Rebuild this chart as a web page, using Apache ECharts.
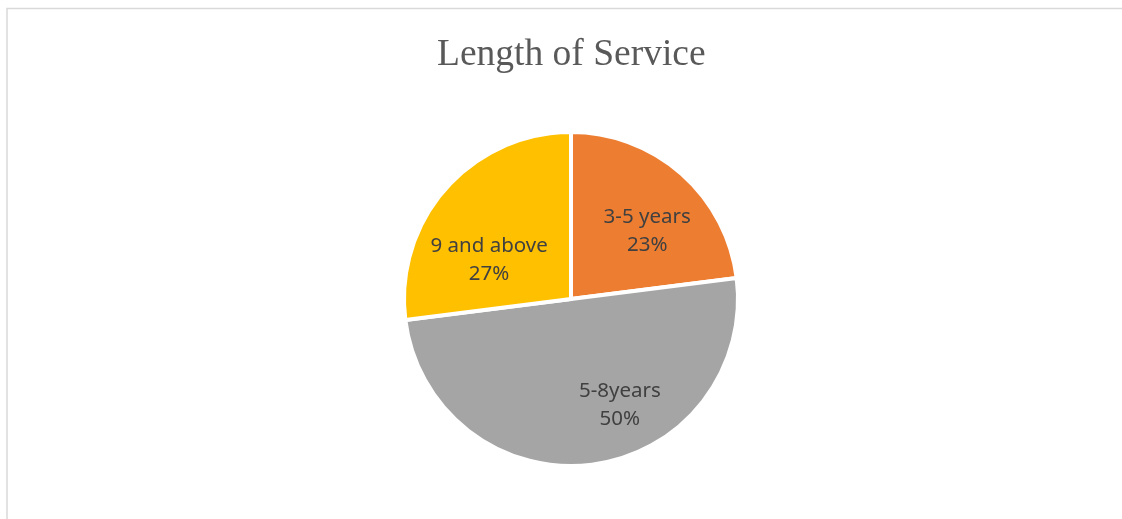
<!DOCTYPE html>
<html>
<head>
<meta charset="utf-8">
<script src="https://cdn.jsdelivr.net/npm/echarts@6/dist/echarts.min.js"></script>
<style>
  html, body { margin: 0; padding: 0; background: #ffffff; }
  #chart { width: 1122px; height: 519px; }
</style>
</head>
<body>
<div id="chart"></div>
<script>
const chartTitle = 'Length of Service';
const categories = ['3-5 years', '5-8years', '9 and above'];
const values = [23, 50, 27];
const sliceColors = ['#ED7D31', '#A5A5A5', '#FFC000'];

const chart = echarts.init(document.getElementById('chart'), null, { renderer: 'canvas' });

const labelNudge = [[19, -3], [38, 20], [-17, 18]];

const option = {
  animation: false,
  backgroundColor: '#ffffff',
  title: {
    text: chartTitle,
    left: 437,
    top: 36,
    padding: 0,
    textStyle: {
      fontFamily: '"Liberation Serif", "Times New Roman", serif',
      fontSize: 37.5,
      fontWeight: 'normal',
      color: '#595959'
    }
  },
  graphic: [{
    type: 'rect',
    shape: { x: 7, y: 8.5, width: 1200, height: 600 },
    style: { fill: 'none', stroke: '#d9d9d9', lineWidth: 1.5 },
    silent: true,
    z: -1
  }],
  series: [{
    type: 'pie',
    center: [571, 299],
    radius: 167,
    startAngle: 90,
    clockwise: true,
    avoidLabelOverlap: false,
    data: categories.map((c, i) => ({
      name: c,
      value: values[i],
      itemStyle: { color: sliceColors[i] }
    })),
    itemStyle: { borderColor: '#ffffff', borderWidth: 4 },
    label: {
      show: true,
      position: 'inside',
      formatter: '{b}\n{d}%',
      fontFamily: '"Noto Sans", "Open Sans", sans-serif',
      fontSize: 20.5,
      lineHeight: 28,
      color: '#404040',
      align: 'center'
    },
    labelLayout: function (params) {
      const n = labelNudge[params.dataIndex] || [0, 0];
      return { dx: n[0], dy: n[1] };
    },
    labelLine: { show: false },
    emphasis: { disabled: true }
  }]
};
chart.setOption(option);
</script>
</body>
</html>
